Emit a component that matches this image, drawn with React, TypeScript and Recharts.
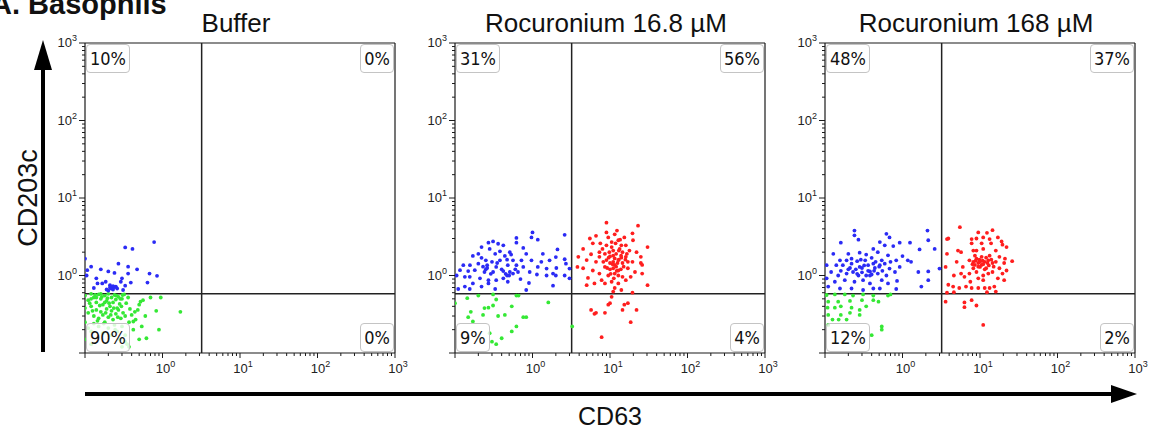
import React from "react";
import { ScatterChart, Scatter, XAxis, YAxis, ReferenceLine } from "recharts";

const PANEL_TITLES = ["Buffer", "Rocuronium 16.8 µM", "Rocuronium 168 µM"];
// quadrant percentages: [upper-left, upper-right, lower-left, lower-right]
const QUADRANT_PCT = [
  ["10%", "0%", "90%", "0%"],
  ["31%", "56%", "9%", "4%"],
  ["48%", "37%", "12%", "2%"],
];
const GATE_X = 3.2;
const GATE_Y = 0.58;
const DOMAIN: [number, number] = [0.1, 1000];
const MAJOR_TICKS = [0.1, 1, 10, 100, 1000];
const LABELED_TICKS = [1, 10, 100, 1000];
const ALL_TICKS = [
  0.1, 0.2, 0.3, 0.4, 0.5, 0.6, 0.7, 0.8, 0.9,
  1, 2, 3, 4, 5, 6, 7, 8, 9,
  10, 20, 30, 40, 50, 60, 70, 80, 90,
  100, 200, 300, 400, 500, 600, 700, 800, 900,
  1000,
];

// Panel 1: Buffer
const P1_BLUE = [
  [0.78, 2.7], [0.33, 2.3], [0.41, 2.2], [0.1, 1.65], [0.12, 1.3], [0.16, 1.2], [0.2, 1.13], [0.24, 1.08],
  [0.27, 1.42], [0.36, 1.3], [0.47, 1.2], [0.36, 1.06], [0.68, 1.06], [0.85, 0.99], [0.107, 1.17], [0.14, 0.92],
  [0.145, 0.79], [0.167, 0.79], [0.185, 0.83], [0.21, 0.75], [0.225, 0.7], [0.25, 0.72], [0.29, 0.83], [0.3, 0.92],
  [0.33, 0.74], [0.39, 0.81], [0.64, 0.81], [0.13, 0.69], [0.26, 0.68], [0.105, 1.0], [0.22, 0.68], [0.23, 0.66],
  [0.2, 0.64], [0.31, 0.65], [0.24, 0.71], [0.21, 0.7], [0.23, 0.73], [0.19, 0.66],
];
const P1_GREEN = [
  [0.1, 0.55], [0.11, 0.48], [0.12, 0.58], [0.13, 0.52], [0.14, 0.45], [0.15, 0.57], [0.16, 0.5], [0.17, 0.42],
  [0.18, 0.55], [0.19, 0.47], [0.2, 0.58], [0.21, 0.4], [0.22, 0.52], [0.23, 0.45], [0.24, 0.56], [0.25, 0.49],
  [0.26, 0.38], [0.27, 0.53], [0.28, 0.43], [0.3, 0.5], [0.32, 0.57], [0.34, 0.44], [0.36, 0.52],
  [0.1, 0.38], [0.11, 0.33], [0.12, 0.4], [0.13, 0.3], [0.14, 0.36], [0.15, 0.28], [0.16, 0.34], [0.17, 0.31],
  [0.19, 0.37], [0.2, 0.29], [0.22, 0.35], [0.23, 0.27], [0.25, 0.32], [0.27, 0.36], [0.29, 0.28], [0.31, 0.33],
  [0.33, 0.3], [0.38, 0.37], [0.4, 0.31],
  [0.1, 0.25], [0.11, 0.21], [0.12, 0.19], [0.13, 0.24], [0.15, 0.22], [0.17, 0.18], [0.18, 0.25], [0.2, 0.21],
  [0.22, 0.17], [0.24, 0.23], [0.26, 0.19], [0.28, 0.15], [0.3, 0.22], [0.33, 0.17], [0.35, 0.13], [0.37, 0.25],
  [0.42, 0.2], [0.45, 0.27], [0.48, 0.36], [0.52, 0.46], [0.6, 0.3], [0.7, 0.52],
  [0.1, 0.15], [0.12, 0.13], [0.3, 0.12], [0.33, 0.14],
  [0.95, 0.52], [0.83, 0.35], [1.7, 0.34], [0.9, 0.2], [0.62, 0.155], [0.5, 0.15], [0.37, 0.12], [0.54, 0.22],
  [0.42, 0.255], [0.56, 0.48], [0.5, 0.42], [0.44, 0.34],
  [0.115, 0.44], [0.125, 0.35], [0.135, 0.56], [0.145, 0.26], [0.155, 0.41], [0.165, 0.53], [0.175, 0.24],
  [0.185, 0.33], [0.195, 0.51], [0.205, 0.44], [0.215, 0.31], [0.235, 0.38], [0.245, 0.2], [0.255, 0.55],
  [0.265, 0.29], [0.285, 0.5], [0.295, 0.4], [0.305, 0.56], [0.12, 0.5], [0.14, 0.52], [0.16, 0.58], [0.18, 0.45],
];

// Panel 2: Rocuronium 16.8 µM
const P2_BLUE = [
  [1.0, 3.6], [0.97, 3.1], [1.17, 2.9], [2.6, 3.35], [0.62, 3.05], [0.62, 2.65], [0.31, 2.75], [0.36, 2.57],
  [0.42, 2.45], [0.27, 2.65], [0.22, 2.33], [0.28, 2.2], [0.38, 2.05], [0.51, 2.0], [0.76, 2.27], [2.1, 2.17],
  [1.36, 1.9], [0.83, 1.9], [0.17, 1.79], [0.22, 1.69], [0.25, 1.57], [0.3, 1.5], [0.38, 1.57], [0.44, 1.79],
  [0.53, 1.86], [0.56, 1.57], [0.72, 1.57], [0.97, 1.57], [1.66, 1.57], [2.0, 1.73], [2.6, 1.62], [2.7, 1.42],
  [0.128, 1.36], [0.156, 1.36], [0.2, 1.42], [0.26, 1.36], [0.34, 1.29], [0.48, 1.36], [0.62, 1.36], [0.76, 1.29],
  [1.17, 1.29], [1.52, 1.23], [2.03, 1.25], [3.0, 1.23], [0.116, 1.17], [0.148, 1.14], [0.18, 1.17], [0.24, 1.11],
  [0.31, 1.11], [0.42, 1.14], [0.51, 1.11], [0.56, 1.06], [0.65, 1.11], [0.92, 1.11], [1.14, 1.03], [1.52, 1.0],
  [1.84, 1.06], [2.0, 1.0], [2.6, 1.0], [0.105, 1.0], [0.134, 0.96], [0.155, 0.96], [0.21, 0.92], [0.27, 0.87],
  [0.27, 0.79], [0.34, 0.87], [0.42, 0.92], [0.48, 0.83], [3.0, 0.92], [0.17, 0.79], [0.22, 0.72], [0.134, 0.72],
  [0.11, 0.67], [0.155, 0.67], [0.33, 0.67], [0.83, 0.65], [1.84, 0.74],
  [0.25, 1.2], [0.26, 1.25], [0.45, 1.05], [0.47, 1.0], [0.5, 1.0], [0.4, 1.2], [0.35, 1.45], [0.29, 1.05],
  [0.2, 1.9], [0.33, 1.9], [0.47, 1.6], [0.6, 1.2], [0.7, 0.9], [0.9, 0.8], [1.3, 1.5], [0.23, 1.3],
];
const P2_GREEN = [
  [0.144, 0.51], [0.1, 0.44], [0.2, 0.55], [0.31, 0.57], [0.34, 0.49], [0.62, 0.55], [0.66, 0.55], [1.6, 0.45],
  [0.24, 0.38], [0.27, 0.385], [0.31, 0.41], [0.54, 0.4], [0.16, 0.34], [0.148, 0.29], [0.23, 0.31], [0.36, 0.3],
  [0.44, 0.31], [0.76, 0.29], [0.83, 0.29], [0.62, 0.22], [0.54, 0.19], [0.28, 0.18], [0.4, 0.155], [0.34, 0.13],
  [0.3, 0.14], [0.17, 0.255], [3.25, 0.22],
];
const P2_RED = [
  [9.0, 4.8], [23, 4.4], [12.3, 3.8], [11.5, 3.4], [9, 3.6], [19.5, 3.5], [6.6, 3.25], [5.5, 3.0],
  [15.3, 3.1], [12.8, 2.85], [10.5, 2.7], [19.8, 2.85], [7.5, 2.6], [6.0, 2.6], [9, 2.45], [16, 2.45],
  [30.5, 2.33], [4.5, 2.2], [13.3, 2.2], [11, 2.1], [17.8, 2.1], [7.3, 2.0], [22, 2.0], [8.6, 1.9],
  [5.7, 1.88], [10, 1.76], [13.9, 1.8], [16, 1.74], [11.5, 1.66], [12.8, 1.58], [3.9, 1.74], [5, 1.58],
  [6.6, 1.5], [8.2, 1.5], [10, 1.45], [14.5, 1.45], [19.5, 1.5], [25, 1.45], [8.6, 1.29], [11, 1.24],
  [12.8, 1.16], [17, 1.24], [21, 1.11], [3.8, 1.29], [4.5, 1.24], [6, 1.16], [7.3, 1.06], [9.5, 1.0],
  [11.5, 1.06], [14.5, 0.96], [26, 1.06], [5.2, 0.93], [7.8, 0.87], [10.5, 0.83], [12.8, 0.79], [16, 0.87],
  [30.5, 0.75], [5, 0.75], [6.3, 0.79], [11.5, 0.69], [19.5, 0.6], [11, 0.62], [10.5, 0.53], [10, 0.44],
  [9.5, 0.42], [15.3, 0.42], [17, 0.44], [22, 0.36], [5.7, 0.36], [6.6, 0.33], [6.3, 0.32], [8.6, 0.33],
  [14.5, 0.36], [18.5, 0.25], [7.8, 0.16], [11.5, 1.37], [12, 1.9], [10.5, 2.33], [14, 2.45], [9.5, 3.1],
  [14.5, 2.0], [17, 1.5], [9, 1.58], [7.3, 1.74], [12.8, 1.0], [18.5, 0.96], [8.6, 0.79], [14, 0.65],
  [25, 1.74], [26, 1.37], [11, 1.5], [12, 1.3], [13, 1.6], [10, 1.2], [11, 1.8], [13, 2.1],
  [9.8, 2.0], [10.8, 1.4], [12.5, 1.45], [14, 1.7], [15, 1.3], [16.5, 1.9], [11.8, 2.6], [13.5, 2.9],
  [10.2, 1.05], [9.2, 1.25], [8, 2.2], [15.8, 1.6], [12.2, 1.15], [11.2, 0.92], [13.8, 1.2], [9.6, 1.7],
];

// Panel 3: Rocuronium 168 µM
const P3_BLUE = [
  [0.24, 3.8], [0.24, 3.3], [0.62, 3.45], [0.68, 3.1], [2.1, 3.8], [2.15, 2.85], [0.16, 2.65], [0.27, 2.9],
  [0.51, 2.7], [0.92, 2.65], [1.25, 2.65], [0.42, 2.2], [0.59, 2.45], [0.76, 2.4], [1.66, 2.17], [2.6, 2.2],
  [0.128, 1.9], [0.2, 1.9], [0.28, 1.97], [0.34, 1.86], [0.48, 2.0], [0.65, 1.82], [1.0, 1.78], [0.156, 1.57],
  [0.22, 1.65], [0.26, 1.53], [0.33, 1.57], [0.4, 1.69], [0.54, 1.57], [0.59, 1.42], [0.83, 1.57], [1.17, 1.57],
  [1.29, 1.5], [0.105, 1.36], [0.17, 1.36], [0.21, 1.25], [0.28, 1.29], [0.36, 1.36], [0.44, 1.25], [0.68, 1.23],
  [0.92, 1.29], [3.0, 1.23], [0.12, 1.11], [0.148, 1.0], [0.19, 1.06], [0.23, 1.11], [0.3, 1.1], [0.38, 1.13],
  [0.4, 1.03], [0.48, 1.06], [0.62, 1.0], [0.8, 1.11], [1.6, 1.11], [2.15, 1.13], [0.105, 0.92], [0.134, 0.83],
  [0.18, 0.87], [0.24, 0.83], [0.31, 0.87], [0.38, 0.79], [0.54, 0.87], [0.65, 0.79], [0.85, 0.85], [2.15, 0.87],
  [1.75, 0.72], [0.11, 0.72], [0.156, 0.68], [0.22, 0.68], [0.31, 0.65], [0.42, 0.68], [0.51, 0.68], [0.83, 0.67],
  [0.27, 1.0], [0.34, 1.0], [0.22, 1.42], [0.42, 1.42], [0.19, 1.57], [0.14, 1.36], [0.51, 1.36],
  [0.25, 1.2], [0.3, 1.25], [0.36, 1.15], [0.45, 1.5], [0.5, 1.3], [0.26, 1.05],
  [0.2, 1.2], [0.32, 1.35], [0.38, 1.0], [0.43, 1.15], [0.29, 1.6], [0.55, 1.15], [0.7, 1.5], [0.16, 1.15],
];
const P3_GREEN = [
  [0.105, 0.56], [0.134, 0.57], [0.18, 0.57], [0.23, 0.55], [0.31, 0.57], [0.42, 0.55], [0.65, 0.55], [0.7, 0.57],
  [0.11, 0.46], [0.148, 0.46], [0.21, 0.47], [0.3, 0.48], [0.42, 0.48], [0.49, 0.46], [0.108, 0.385], [0.134, 0.385],
  [0.16, 0.4], [0.22, 0.385], [0.28, 0.36], [0.34, 0.4], [0.11, 0.31], [0.16, 0.31], [0.21, 0.33], [0.28, 0.31],
  [0.125, 0.27], [0.15, 0.27], [0.19, 0.27], [0.54, 0.22], [0.54, 0.2], [0.4, 0.17], [0.11, 0.23],
];
const P3_RED = [
  [5.5, 4.2], [9.5, 3.6], [12.3, 3.55], [14.5, 3.85], [3.75, 2.95], [3.9, 3.0], [9, 3.0], [11, 3.1],
  [17, 3.1], [19, 2.75], [7.8, 2.6], [10.5, 2.6], [13.9, 2.6], [19.5, 2.5], [22, 2.33], [5.2, 2.1],
  [5.7, 2.0], [9, 2.1], [11, 2.2], [16, 2.1], [3.75, 1.9], [8.6, 1.8], [10.5, 1.74], [13.3, 1.8],
  [17.8, 1.74], [21, 1.65], [26, 1.53], [5, 1.5], [7.3, 1.57], [8.2, 1.5], [9.5, 1.45], [11.5, 1.5],
  [14.5, 1.45], [16, 1.5], [20.5, 1.45], [3.6, 1.29], [6, 1.29], [8.2, 1.24], [10, 1.29], [12, 1.24],
  [17.8, 1.24], [22, 1.16], [5.7, 1.06], [6.3, 0.96], [7.3, 1.06], [9, 1.11], [11, 1.0], [12.8, 1.06],
  [14.5, 1.11], [19.5, 1.06], [4.6, 1.0], [9.5, 0.92], [11, 0.87], [17, 0.92], [20.5, 0.87], [3.9, 0.76],
  [4.5, 0.72], [5.4, 0.69], [6.6, 0.72], [7.8, 0.69], [9.5, 0.69], [11.5, 0.69], [13.3, 0.69], [15.3, 0.72],
  [16, 0.62], [3.75, 0.6], [4.6, 0.61], [12.3, 0.61], [3.6, 0.46], [6.3, 0.45], [7.8, 0.48], [9, 0.41],
  [6.3, 0.39], [11, 0.23], [8.6, 1.37], [10.5, 1.37], [9, 1.65], [12.8, 1.57], [8.2, 2.1], [7.8, 2.95],
  [13.3, 2.95], [7.5, 0.83], [10, 1.5], [11, 1.4], [9.5, 1.3], [12, 1.7], [13, 1.35],
  [8.8, 1.55], [9.8, 1.6], [10.8, 1.55], [12.5, 1.45], [14, 1.6], [15, 1.3], [8, 1.4], [11.5, 1.2],
];

const PANELS = [
  { blue: P1_BLUE, green: P1_GREEN, red: [] as number[][] },
  { blue: P2_BLUE, green: P2_GREEN, red: P2_RED },
  { blue: P3_BLUE, green: P3_GREEN, red: P3_RED },
];

const COLORS = { blue: "#2b2bf5", green: "#35e835", red: "#ff1e1e" };
const AXIS_COLOR = "#1a1a1a";
const FONT = "'Liberation Sans', Arial, sans-serif";

const toPoints = (arr: number[][]) => arr.map(([x, y]) => ({ x, y }));

const dot = (color: string) => (props: any) => {
  if (props.cx == null || props.cy == null) return <g />;
  return <circle cx={props.cx} cy={props.cy} r={1.9} fill={color} />;
};

const isMajor = (v: number) => MAJOR_TICKS.some((m) => Math.abs(m - v) < 1e-9);
const isLabeled = (v: number) => LABELED_TICKS.some((m) => Math.abs(m - v) < 1e-9);

const XTick = (props: any) => {
  const { x, y, payload } = props;
  const v = payload.value;
  const major = isMajor(v);
  const exp = Math.round(Math.log10(v));
  return (
    <g>
      <line x1={x} x2={x} y1={y} y2={y + (major ? 5 : 3)} stroke={AXIS_COLOR} strokeWidth={1} />
      {isLabeled(v) && (
        <text x={x + 3} y={y + 20} textAnchor="middle" fontSize={13} fontFamily={FONT} fill="#222">
          10<tspan dy={-6} fontSize={9}>{exp}</tspan>
        </text>
      )}
    </g>
  );
};

const YTick = (props: any) => {
  const { x, y, payload } = props;
  const v = payload.value;
  const major = isMajor(v);
  const exp = Math.round(Math.log10(v));
  return (
    <g>
      <line x1={x} x2={x - (major ? 6 : 3)} y1={y} y2={y} stroke={AXIS_COLOR} strokeWidth={1} />
      {isLabeled(v) && (
        <text x={x - 8} y={y + 4} textAnchor="end" fontSize={13} fontFamily={FONT} fill="#222">
          10<tspan dy={-6} fontSize={9}>{exp}</tspan>
        </text>
      )}
    </g>
  );
};

const CHART_W = 420;
const CHART_H = 432;
const PANEL_STEP = 370;
const PLOT_LEFT = 85;
const PLOT_TOP = 43;
const PLOT_SIZE = 310;
const RIGHT_MARGIN = CHART_W - PLOT_LEFT - PLOT_SIZE;

const boxStyle: React.CSSProperties = {
  position: "absolute",
  fontFamily: "'DejaVu Sans Condensed', 'Liberation Sans Narrow', 'Liberation Sans', Arial, sans-serif",
  fontSize: 18,
  lineHeight: "27px",
  padding: "0 3px",
  border: "1px solid #c4c4c4",
  borderRadius: 4,
  background: "rgba(255,255,255,0.8)",
  color: "#111",
};

function Panel({ idx }: { idx: number }) {
  const p = PANELS[idx];
  return (
    <div style={{ position: "absolute", left: idx * PANEL_STEP, top: 0, width: CHART_W, height: CHART_H }}>
      <ScatterChart width={CHART_W} height={CHART_H} margin={{ top: PLOT_TOP, right: RIGHT_MARGIN, bottom: 49, left: 40 }}>
        <XAxis
          type="number"
          dataKey="x"
          scale="log"
          domain={DOMAIN}
          allowDataOverflow
          ticks={ALL_TICKS}
          interval={0}
          tickSize={0}
          tickMargin={0}
          height={30}
          tick={<XTick />}
          axisLine={{ stroke: AXIS_COLOR, strokeWidth: 1.2 }}
          tickLine={false}
        />
        <YAxis
          type="number"
          dataKey="y"
          scale="log"
          domain={DOMAIN}
          allowDataOverflow
          ticks={ALL_TICKS}
          interval={0}
          tickSize={0}
          tickMargin={0}
          width={45}
          tick={<YTick />}
          axisLine={{ stroke: AXIS_COLOR, strokeWidth: 1.2 }}
          tickLine={false}
        />
        <ReferenceLine x={1000} stroke={AXIS_COLOR} strokeWidth={1.2} />
        <ReferenceLine y={1000} stroke={AXIS_COLOR} strokeWidth={1.2} />
        <Scatter data={toPoints(p.green)} shape={dot(COLORS.green)} isAnimationActive={false} />
        <Scatter data={toPoints(p.blue)} shape={dot(COLORS.blue)} isAnimationActive={false} />
        <Scatter data={toPoints(p.red)} shape={dot(COLORS.red)} isAnimationActive={false} />
        <ReferenceLine x={GATE_X} stroke="#222" strokeWidth={1.5} />
        <ReferenceLine y={GATE_Y} stroke="#222" strokeWidth={1.5} />
      </ScatterChart>
      <div style={{ ...boxStyle, left: PLOT_LEFT + 1, top: PLOT_TOP + 1 }}>{QUADRANT_PCT[idx][0]}</div>
      <div style={{ ...boxStyle, right: RIGHT_MARGIN + 1, top: PLOT_TOP + 1 }}>{QUADRANT_PCT[idx][1]}</div>
      <div style={{ ...boxStyle, left: PLOT_LEFT + 1, top: PLOT_TOP + PLOT_SIZE - 30 }}>{QUADRANT_PCT[idx][2]}</div>
      <div style={{ ...boxStyle, right: RIGHT_MARGIN + 1, top: PLOT_TOP + PLOT_SIZE - 30 }}>{QUADRANT_PCT[idx][3]}</div>
    </div>
  );
}

export default function App() {
  return (
    <div style={{ position: "relative", width: 1149, height: 432, background: "#fff", overflow: "hidden" }}>
      <style>{"body{margin:0;}"}</style>
      <svg width={1149} height={432} style={{ position: "absolute", left: 0, top: 0 }}>
        <text x={-9} y={14} fontSize={29} fontWeight="bold" fontFamily={FONT} fill="#111">A. Basophils</text>
        {PANEL_TITLES.map((t, i) => (
          <text key={t} x={PLOT_LEFT + PLOT_SIZE / 2 + i * PANEL_STEP - 4} y={32} fontSize={26} textAnchor="middle" fontFamily={FONT} fill="#111">
            {t}
          </text>
        ))}
        {/* vertical arrow */}
        <line x1={43} x2={43} y1={66} y2={352} stroke="#000" strokeWidth={4} />
        <polygon points="43,40 34,70 52,70" fill="#000" />
        <text transform="translate(37,198) rotate(-90)" fontSize={27} textAnchor="middle" fontFamily={FONT} fill="#111">CD203c</text>
        {/* horizontal arrow */}
        <line x1={85} x2={1114} y1={394} y2={394} stroke="#000" strokeWidth={4} />
        <polygon points="1137,394 1111,385 1111,403" fill="#000" />
        <text x={610} y={425} fontSize={25} textAnchor="middle" fontFamily={FONT} fill="#111">CD63</text>
      </svg>
      {PANEL_TITLES.map((t, i) => (
        <Panel key={t} idx={i} />
      ))}
    </div>
  );
}
